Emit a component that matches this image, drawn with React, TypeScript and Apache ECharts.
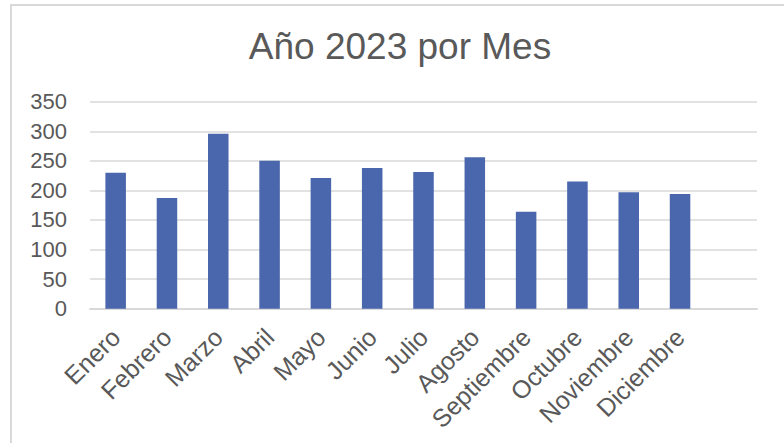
import React, { useEffect, useRef } from "react";
import * as echarts from "echarts";

const titleText = "Año 2023 por Mes";
const months = [
  "Enero", "Febrero", "Marzo", "Abril", "Mayo", "Junio",
  "Julio", "Agosto", "Septiembre", "Octubre", "Noviembre", "Diciembre", "",
];
const values = [230, 187, 296, 250, 221, 238, 231, 256, 164, 215, 197, 194, null];
const yMin = 0;
const yMax = 350;
const yStep = 50;

export default function App() {
  const ref = useRef<HTMLDivElement>(null);
  useEffect(() => {
    if (!ref.current) return;
    const chart = echarts.init(ref.current, null, { renderer: "svg" });
    const font = "'Liberation Sans', Arial, sans-serif";
    chart.setOption({
      animation: false,
      backgroundColor: "#ffffff",
      textStyle: { fontFamily: font },
      title: {
        text: titleText,
        left: 400,
        top: 28,
        padding: 0,
        textAlign: "center",
        textStyle: { fontFamily: font, fontSize: 37, fontWeight: "normal", color: "#595959" },
      },
      graphic: [
        {
          type: "rect",
          shape: { x: 11, y: 5, width: 800, height: 500 },
          style: { fill: "none", stroke: "#D9D9D9", lineWidth: 2 },
          silent: true,
        },
      ],
      grid: { left: 90, right: 27, top: 101.7, bottom: 134.3 },
      xAxis: {
        type: "category",
        data: months,
        axisTick: { show: false },
        axisLine: { lineStyle: { color: "#D9D9D9", width: 2 } },
        axisLabel: {
          interval: 0,
          rotate: 45,
          margin: 24,
          color: "#595959",
          fontSize: 25,
          fontFamily: font,
        },
      },
      yAxis: {
        type: "value",
        min: yMin,
        max: yMax,
        interval: yStep,
        axisLine: { show: false },
        axisTick: { show: false },
        splitLine: { lineStyle: { color: "#D9D9D9", width: 1.5 } },
        axisLabel: { color: "#595959", fontSize: 22, margin: 23, fontFamily: font },
      },
      series: [
        {
          type: "bar",
          data: values,
          barWidth: "40%",
          itemStyle: { color: "#4A66AC" },
        },
      ],
    });
    return () => chart.dispose();
  }, []);
  return (
    <div
      ref={ref}
      style={{ position: "fixed", left: 0, top: 0, width: 784, height: 443 }}
    />
  );
}
